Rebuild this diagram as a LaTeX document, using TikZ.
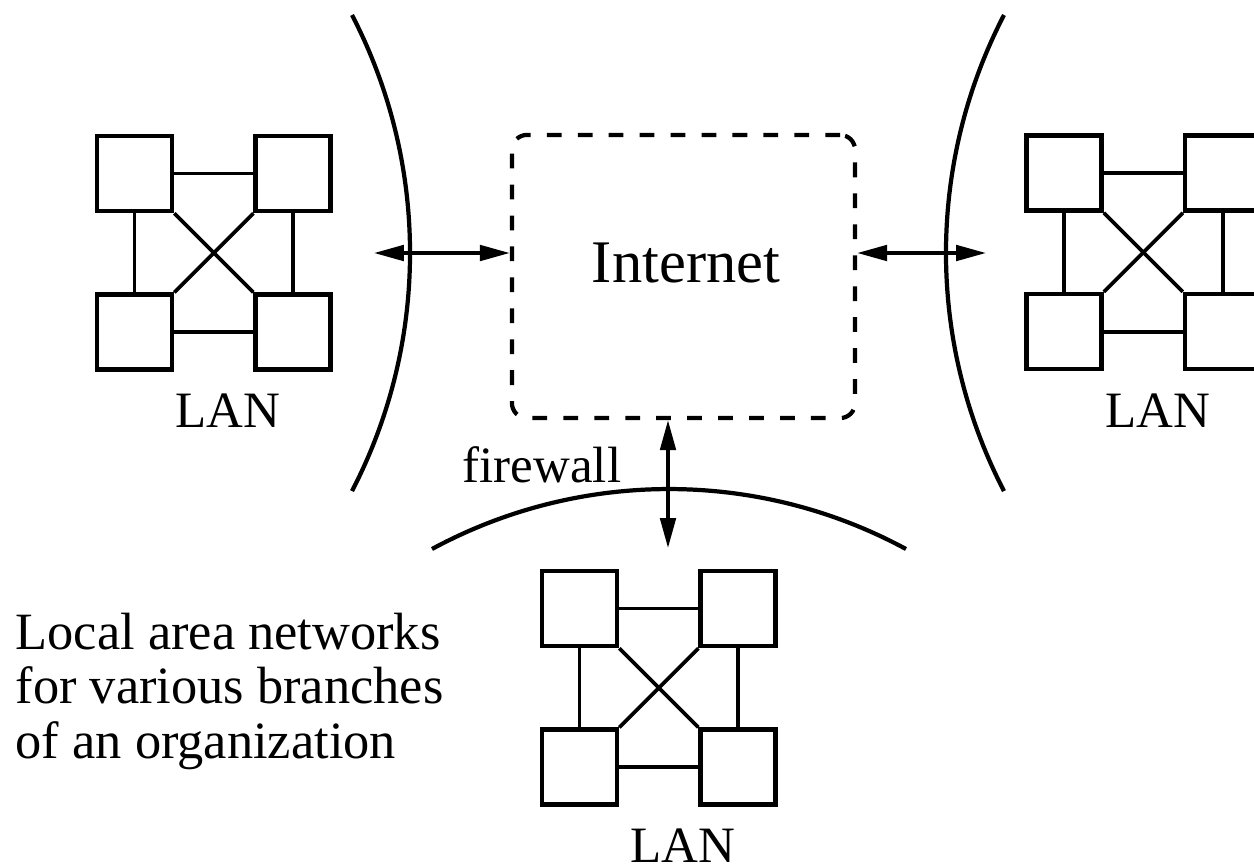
\documentclass[tikz,border=0pt]{standalone}
\usepackage{fontspec}
\setmainfont{Liberation Serif}
\usetikzlibrary{arrows.meta,positioning}

\begin{document}
\begin{tikzpicture}[
  x=0.01cm, y=-0.01cm,
  font=\fontsize{14.5}{17}\selectfont,
  pc/.style={rectangle, draw, line width=1.3pt, minimum size=0.75cm, inner sep=0pt},
  link/.style={line width=1.05pt},
  wall/.style={line width=1.2pt},
  cloudbox/.style={rectangle, draw, line width=1.2pt, dash pattern=on 4.2pt off 4.6pt, rounded corners=0.15cm, minimum width=3.43cm, minimum height=2.83cm},
  arr/.style={{Triangle[length=8.5pt,width=4.4pt]}-{Triangle[length=8.5pt,width=4.4pt]}, line width=1pt}
]
\useasboundingbox (0,0) rectangle (1254,866);

\foreach \lan/\x/\y/\lx in {west/134.5/173.5/228, east/1064/173/1158, south/579.5/608.5/683}{
  \node[pc] (\lan-a) at (\x,\y) {};
  \node[pc, right=0.79cm of \lan-a] (\lan-b) {};
  \node[pc, below=0.79cm of \lan-a] (\lan-c) {};
  \node[pc, right=0.79cm of \lan-c] (\lan-d) {};
  \draw[link] (\lan-a) -- (\lan-b);
  \draw[link] (\lan-c) -- (\lan-d);
  \draw[link] (\lan-a) -- (\lan-c);
  \draw[link] (\lan-b) -- (\lan-d);
  \draw[link] (\lan-a.south east) -- (\lan-d.north west);
  \draw[link] (\lan-b.south west) -- (\lan-c.north east);
  \node[anchor=base, inner sep=0pt] (\lan-lbl) at (\lx,\y+254) {LAN};
}

\node[cloudbox] (inet) at (683.5,276.5) {};
\node[anchor=base, inner sep=0pt, font=\fontsize{17.2}{20}\selectfont] (inet-lbl) at (686,282) {Internet};

\draw[wall] (352,15) arc[start angle=27.4, end angle=-27.4, radius=5.17cm];
\draw[wall] (1004,15) arc[start angle=152.6, end angle=207.4, radius=5.17cm];
\draw[wall] (432,549) arc[start angle=118.4, end angle=61.6, radius=4.98cm];

\coordinate (west-tip) at (374,253);
\coordinate (east-tip) at (986,253);
\coordinate (south-tip) at (668,548);
\draw[arr] (west-tip) -- (west-tip -| inet.west);
\draw[arr] (east-tip -| inet.east) -- (east-tip);
\draw[arr] (south-tip |- inet.south) -- (south-tip);

\node[anchor=base, inner sep=0pt] (fw-lbl) at (542,482) {firewall};
\node[anchor=north west, align=left, inner sep=0pt, font=\fontsize{14.9}{15.6}\selectfont] (note) at (15,612) {Local area networks\\for various branches\\of an organization};
\end{tikzpicture}
\end{document}
